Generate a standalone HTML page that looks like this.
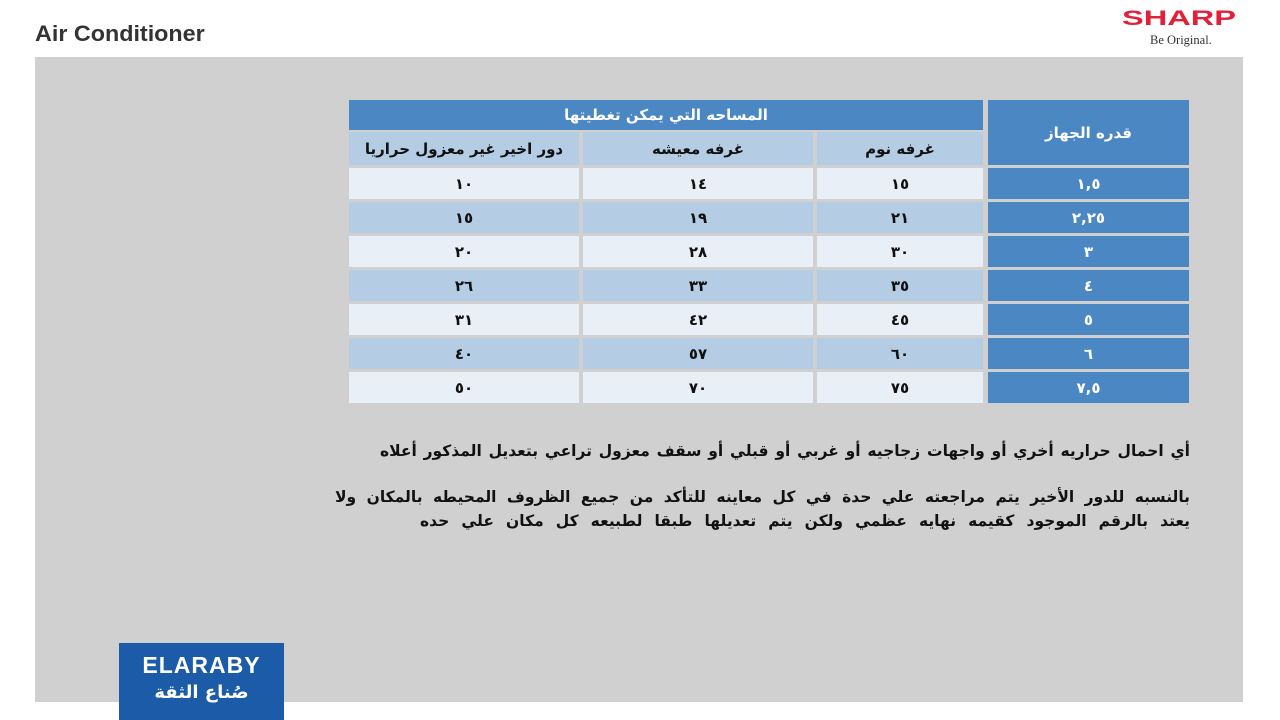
<!DOCTYPE html>
<html><head><meta charset="utf-8"><style>
*{margin:0;padding:0;box-sizing:border-box}
body{width:1280px;height:720px;background:#fff;position:relative;overflow:hidden;font-family:"Liberation Sans","Noto Sans CJK SC",sans-serif}
.a{position:absolute}
.c{position:absolute;display:flex;align-items:center;justify-content:center;font-weight:bold;font-size:15px;color:#111;font-family:"DejaVu Sans","Noto Sans CJK SC",sans-serif}
.d{background:#4b87c2;color:#fff}
.l{background:#b4cde5}
.w{background:#e9eff6}
.t{position:absolute;direction:rtl;text-align:justify;text-align-last:justify;font-weight:bold;font-size:15.5px;color:#111;font-family:"DejaVu Sans",sans-serif;white-space:nowrap}
</style></head><body>
<div class="a" style="left:35px;top:21px;font-size:22px;color:#333;font-weight:bold;transform:scaleX(1.06);transform-origin:left">Air Conditioner</div>
<div class="a" style="left:1122px;top:7px;font-size:21px;color:#e2203c;font-weight:900;transform:scaleX(1.55);transform-origin:left">SHARP</div>
<div class="a" style="left:1150px;top:33px;font-size:12.5px;color:#333;font-family:'Liberation Serif',serif">Be Original.</div>
<div class="a" style="left:35px;top:57px;width:1208px;height:645px;background:#d0d0d0"></div>

<div class="c d" style="left:349px;top:100px;width:634px;height:30px">المساحه التي يمكن تغطيتها</div>
<div class="c d" style="left:988px;top:100px;width:201px;height:65px">قدره الجهاز</div>
<div class="c l" style="left:349px;top:132px;width:230px;height:33px">دور اخير غير معزول حراريا</div>
<div class="c l" style="left:583px;top:132px;width:230px;height:33px">غرفه معيشه</div>
<div class="c l" style="left:817px;top:132px;width:166px;height:33px">غرفه نوم</div>

<div id="rows"></div>
<script>
var d=[["١٠","١٤","١٥","١,٥"],["١٥","١٩","٢١","٢,٢٥"],["٢٠","٢٨","٣٠","٣"],["٢٦","٣٣","٣٥","٤"],["٣١","٤٢","٤٥","٥"],["٤٠","٥٧","٦٠","٦"],["٥٠","٧٠","٧٥","٧,٥"]];
var h="";d.forEach(function(r,i){var y=168+i*34,c=i%2?"l":"w";
h+='<div class="c '+c+'" style="left:349px;top:'+y+'px;width:230px;height:31px">'+r[0]+'</div>';
h+='<div class="c '+c+'" style="left:583px;top:'+y+'px;width:230px;height:31px">'+r[1]+'</div>';
h+='<div class="c '+c+'" style="left:817px;top:'+y+'px;width:166px;height:31px">'+r[2]+'</div>';
h+='<div class="c d" style="left:988px;top:'+y+'px;width:201px;height:31px">'+r[3]+'</div>';});
document.getElementById("rows").innerHTML=h;
</script>

<div class="t" style="left:380px;width:810px;top:442px">أي احمال حراريه أخري أو واجهات زجاجيه أو غربي أو قبلي أو سقف معزول تراعي بتعديل المذكور أعلاه</div>
<div class="t" style="left:335px;width:855px;top:488px">بالنسبه للدور الأخير يتم مراجعته علي حدة في كل معاينه للتأكد من جميع الظروف المحيطه بالمكان ولا</div>
<div class="t" style="left:420px;width:770px;top:512px">يعتد بالرقم الموجود كقيمه نهايه عظمي ولكن يتم تعديلها طبقا لطبيعه كل مكان علي حده</div>

<div class="a" style="left:119px;top:643px;width:165px;height:77px;background:#1b5ba8"></div>
<div class="a" style="left:119px;top:652px;width:165px;text-align:center;color:#fff;font-weight:900;font-size:23px;letter-spacing:1px">ELARABY</div>
<div class="a" style="left:119px;top:682px;width:165px;text-align:center;color:#fff;font-weight:bold;font-size:18px;font-family:'DejaVu Sans',sans-serif">صُناع الثقة</div>
</body></html>
